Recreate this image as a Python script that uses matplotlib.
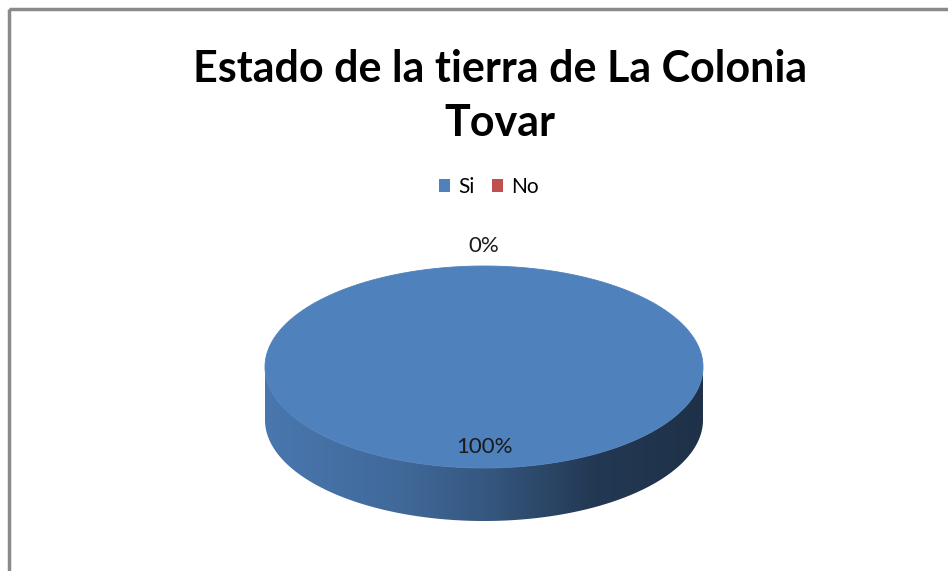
import numpy as np
import matplotlib
matplotlib.use("Agg")
import matplotlib.pyplot as plt
from matplotlib.patches import Polygon, Patch, Rectangle
from matplotlib.colors import to_rgb

title = "Estado de la tierra de La Colonia\nTovar"
categories = ["Si", "No"]
values = [100, 0]
colors = ["#4f81bd", "#c0504d"]

plt.rcParams['font.family'] = ['Lato', 'DejaVu Sans']

W, H = 948, 571
fig = plt.figure(figsize=(W / 100, H / 100), dpi=100)
ax = fig.add_axes([0, 0, 1, 1])
ax.set_xlim(0, W)
ax.set_ylim(H, 0)
ax.axis('off')

# chart frame (only left and top visible in the crop)
ax.add_patch(Rectangle((9.5, 8.5), W + 20, H + 20, fill=False,
                       edgecolor='#8a8a8a', lw=2.5))

# pie geometry in pixels
cx, cy = 484, 367
rx, ry = 219, 101
depth = 53


def ell(t, dy=0):
    return np.column_stack([cx + rx * np.cos(t), cy - ry * np.sin(t) + dy])


total = float(sum(values))
start = 90.0
cum = 0.0
for v, c in zip(values, colors):
    if v <= 0:
        cum += v
        continue
    t1 = np.radians(start - 360 * cum / total)
    t2 = np.radians(start - 360 * (cum + v) / total)
    # front side of the slice (where sin(t) < 0)
    ts = np.linspace(t1, t2, 721)
    front = ts[np.sin(ts) <= 0]
    if len(front) > 1:
        front = np.sort(np.mod(front, 2 * np.pi))
        front = front[(front >= np.pi) & (front <= 2 * np.pi)]
        top_edge = ell(front)
        bot_edge = ell(front[::-1], depth)
        side = Polygon(np.vstack([top_edge, bot_edge]), closed=True,
                       facecolor='none', edgecolor='none')
        ax.add_patch(side)
        base = np.array(to_rgb(c))
        stops_x = [0.0, 0.3, 0.5, 0.75, 1.0]
        stops_f = [0.92, 0.82, 0.68, 0.44, 0.38]
        xs = np.linspace(0, 1, 400)
        fac = np.interp(xs, stops_x, stops_f)
        grad = (base[None, :] * fac[:, None])[None, :, :]
        im = ax.imshow(grad, extent=(cx - rx, cx + rx, cy + ry + depth, cy - ry),
                       aspect='auto', interpolation='bilinear', zorder=1)
        im.set_clip_path(side)
    # top face
    if v >= total:
        tt = np.linspace(0, 2 * np.pi, 721)
        pts = ell(tt)
    else:
        tt = np.linspace(t1, t2, 361)
        pts = np.vstack([[cx, cy], ell(tt)])
    ax.add_patch(Polygon(pts, closed=True, facecolor=c, edgecolor=c,
                         lw=0.6, zorder=2))
    cum += v

# data labels
cum = 0.0
for v in values:
    mid = np.radians(start - 360 * (cum + v / 2) / total)
    r = 0.79 if v > 0 else 1.2
    lx = cx + rx * r * np.cos(mid)
    ly = cy - ry * r * np.sin(mid)
    ax.text(lx, ly, "%d%%" % round(100 * v / total), ha='center',
            va='center', fontsize=16, color='#1a1a1a', zorder=3)
    cum += v

ax.set_xlim(0, W)
ax.set_ylim(H, 0)

ax.text(500, 96, title, ha='center', va='center', fontsize=31,
        fontweight='bold', color='black', linespacing=1.45)

handles = [Patch(facecolor=c, edgecolor='none') for c in colors]
fig.legend(handles, categories, loc='center', ncol=2, frameon=False,
           bbox_to_anchor=(489 / W, 1 - 187 / H), fontsize=15,
           handlelength=0.55, handleheight=0.55, handletextpad=0.4,
           columnspacing=0.8)

fig.savefig("out.png", dpi=100)
